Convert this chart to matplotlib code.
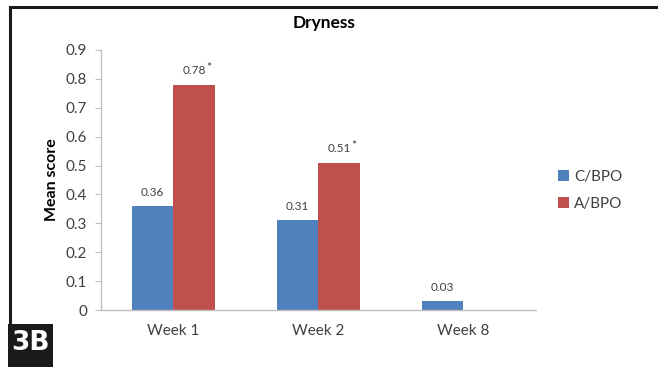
import matplotlib
matplotlib.use('Agg')
from matplotlib import pyplot
from matplotlib.lines import Line2D
from matplotlib.patches import Rectangle
import numpy

weeks = ['Week 1', 'Week 2', 'Week 8']
series_names = ['C/BPO', 'A/BPO']
c_bpo = [0.36, 0.31, 0.03]
a_bpo = [0.78, 0.51, None]
significant = [True, True, False]
y_ticks = [0, 0.1, 0.2, 0.3, 0.4, 0.5, 0.6, 0.7, 0.8, 0.9]

colors = ['#4F81BD', '#C0504D']
text_color = '#404040'
axis_color = '#BFBFBF'

pyplot.rcParams['font.family'] = ['Lato', 'DejaVu Sans']

figure = pyplot.figure(figsize=(6.58, 3.67), dpi=100)
ax = figure.add_axes([0.1535, 0.1553, 0.661, 0.7085])

x = numpy.arange(len(weeks))
width = 1 / 3.5

for i, (name, values) in enumerate(zip(series_names, [c_bpo, a_bpo])):
    offset = (i - 0.5) * width
    for j, value in enumerate(values):
        if value is None:
            continue
        ax.bar(x[j] + offset, value, width=width, color=colors[i],
               label=name if j == 0 else None)
        ax.annotate(f'{value:.2f}', (x[j] + offset, value), xytext=(0, 6),
                    textcoords='offset points', ha='center', va='bottom',
                    fontsize=8.5, color=text_color)
        if i == 1 and significant[j]:
            ax.annotate('*', (x[j] + offset, value), xytext=(8.5, 8),
                        textcoords='offset points', ha='left', va='bottom',
                        fontsize=9, color=text_color)

ax.set_xlim(-0.5, len(weeks) - 0.5)
ax.set_ylim(0, 0.9)
ax.set_yticks(y_ticks)
ax.set_yticklabels([f'{t:g}' for t in y_ticks])
ax.set_xticks(x)
ax.set_xticklabels(weeks)
ax.tick_params(axis='y', length=4, color=axis_color, labelsize=11,
               labelcolor=text_color, pad=6)
ax.tick_params(axis='x', length=0, labelsize=11, labelcolor=text_color, pad=10)
for side in ['top', 'right']:
    ax.spines[side].set_visible(False)
for side in ['left', 'bottom']:
    ax.spines[side].set_color(axis_color)
    ax.spines[side].set_linewidth(1)

ax.set_ylabel('Mean score', fontsize=11.5, fontweight='bold', color='black',
              labelpad=5)
figure.text(324.5 / 658, 1 - 23 / 367, 'Dryness', ha='center', va='center',
            fontsize=12.5, fontweight='bold', color='black')

ax.legend(loc='center left', bbox_to_anchor=(1.02, 0.46), frameon=False,
          fontsize=11, handlelength=0.7, handleheight=0.7, handletextpad=0.35,
          labelspacing=0.85, labelcolor=text_color)

# frame around the panel: top and left edges, panel tag at bottom left
figure.add_artist(Line2D([9.5 / 658, 1], [1 - 6.5 / 367, 1 - 6.5 / 367],
                         color='#1a1a1a', linewidth=2.2,
                         transform=figure.transFigure))
figure.add_artist(Line2D([9.5 / 658, 9.5 / 658], [1 - 6.5 / 367, 43 / 367],
                         color='#1a1a1a', linewidth=2.2,
                         transform=figure.transFigure))
figure.add_artist(Rectangle((8 / 658, 0), 45 / 658, 43 / 367,
                            facecolor='#1a1a1a', edgecolor='none',
                            transform=figure.transFigure))
figure.text(30.5 / 658, 23.5 / 367, '3B', ha='center', va='center',
            fontsize=19, fontweight='bold', color='white',
            family=['Liberation Sans Narrow', 'DejaVu Sans'])

figure.savefig('out.png', dpi=100)
